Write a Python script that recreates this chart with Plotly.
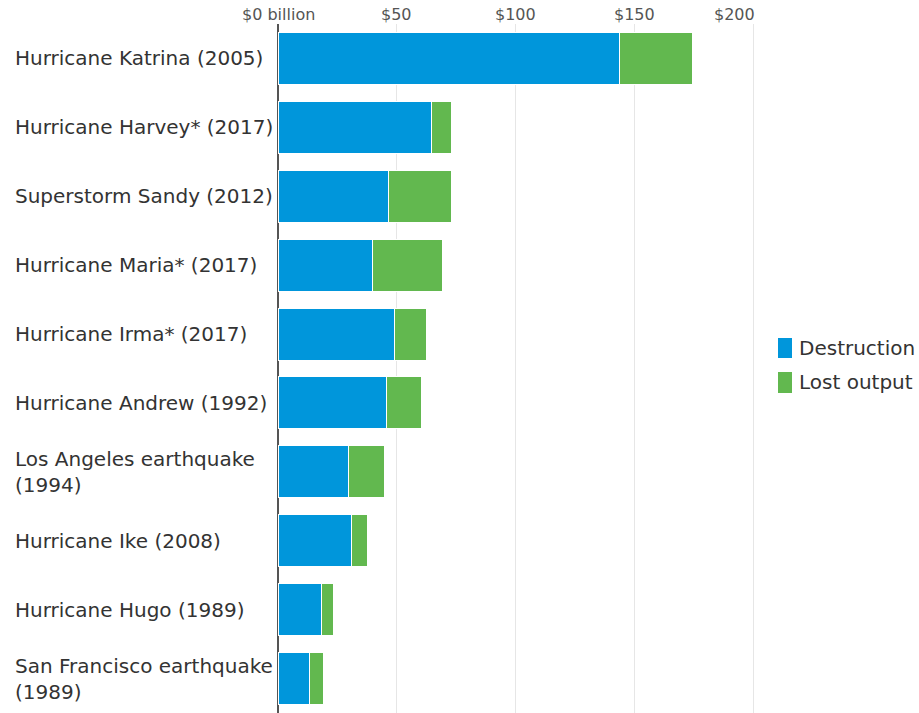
import plotly.graph_objects as go

categories = [
    "Hurricane Katrina (2005)",
    "Hurricane Harvey* (2017)",
    "Superstorm Sandy (2012)",
    "Hurricane Maria* (2017)",
    "Hurricane Irma* (2017)",
    "Hurricane Andrew (1992)",
    "Los Angeles earthquake<br>(1994)",
    "Hurricane Ike (2008)",
    "Hurricane Hugo (1989)",
    "San Francisco earthquake<br>(1989)",
]
destruction = [143.6, 64.7, 46.5, 39.9, 49.0, 45.5, 29.5, 30.8, 18.2, 13.2]
lost_output = [30.8, 8.1, 26.3, 29.4, 13.3, 14.7, 15.3, 7.0, 5.3, 6.1]
tick_vals = [0, 50, 100, 150, 200]
tick_text = ["$0 billion", "$50", "$100", "$150", "$200"]
series_names = ["Destruction", "Lost output"]

BLUE = "#0096db"
GREEN = "#62b84f"
FONT = "DejaVu Sans"

fig = go.Figure()
for name, vals, col in zip(series_names, [destruction, lost_output], [BLUE, GREEN]):
    fig.add_trace(go.Bar(
        y=categories, x=vals, orientation="h", name=name, showlegend=False,
        marker=dict(color=col, line=dict(color="white", width=1)),
    ))

annotations = []
for c in categories:
    annotations.append(dict(
        x=-0.5535, xref="paper", y=c, yref="y", text=c, showarrow=False,
        xanchor="left", yanchor="middle", align="left",
        font=dict(family=FONT, size=20, color="#333333"),
    ))
for v, t in zip(tick_vals, tick_text):
    annotations.append(dict(
        x=v, xref="x", y=1.0, yref="paper", yshift=10, text=t, showarrow=False,
        xanchor="center", yanchor="middle",
        xshift=-19 if v == 200 else 0,
        font=dict(family=FONT, size=16, color="#555555"),
    ))

# custom legend (swatches + labels)
shapes = []
legend_rows = [(0.5443, 0.5152, 0.5298), (0.4949, 0.4644, 0.4804)]
for (y1, y0, yc), name, col in zip(legend_rows, series_names, [BLUE, GREEN]):
    shapes.append(dict(type="rect", xref="paper", yref="paper",
                       x0=1.0460, x1=1.0753, y0=y0, y1=y1,
                       fillcolor=col, line=dict(width=0)))
    annotations.append(dict(
        x=1.0858, xref="paper", y=yc, yref="paper", text=name, showarrow=False,
        xanchor="left", yanchor="middle",
        font=dict(family=FONT, size=20, color="#333333"),
    ))

fig.update_layout(
    width=919, height=713,
    margin=dict(l=278, r=163, t=24, b=0),
    paper_bgcolor="white", plot_bgcolor="white",
    barmode="stack", bargap=0.245,
    showlegend=False,
    xaxis=dict(
        range=[0, 201], side="top", tickvals=tick_vals, showticklabels=False,
        showgrid=True, gridcolor="#e6e6e6", gridwidth=1,
        zeroline=True, zerolinecolor="#555555", zerolinewidth=2,
        fixedrange=True,
    ),
    yaxis=dict(
        autorange="reversed", showticklabels=False, showgrid=False,
        zeroline=False, fixedrange=True,
    ),
    annotations=annotations,
    shapes=shapes,
)

fig.write_html("out.html")
